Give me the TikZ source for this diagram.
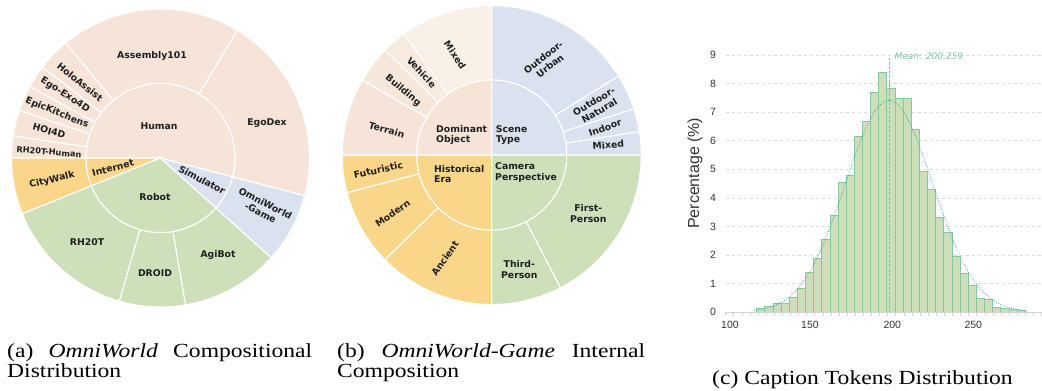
\documentclass[tikz,border=0pt]{standalone}
\usepackage{graphicx}
\usepackage{fontspec}
\setmainfont{Liberation Serif}
\newfontfamily\lab{DejaVu Sans}
\newfontfamily\axf{Liberation Sans}
\usetikzlibrary{calc}
\definecolor{hum}{HTML}{F5E4D7}
\definecolor{hum2}{HTML}{F6E7DB}
\definecolor{hum3}{HTML}{F7EBE0}
\definecolor{hum4}{HTML}{F9F0E7}
\definecolor{inet}{HTML}{FAD68A}
\definecolor{robo}{HTML}{CDE0B9}
\definecolor{simu}{HTML}{DAE1EF}
\definecolor{barfill}{HTML}{CCDFB8}
\definecolor{baredge}{HTML}{86C6A8}
\definecolor{curvec}{HTML}{2EA493}
\definecolor{meanc}{HTML}{7CC4A8}
\definecolor{meant}{HTML}{78C6A8}
\definecolor{gridc}{HTML}{DDDDDD}
\definecolor{axc}{HTML}{D3D3D3}
\definecolor{tickt}{HTML}{333333}
\newcommand\annsec[6]{%
  \fill[#6,draw=white,line width=1.1pt] ([shift={(#2:#5)}]#1) arc[start angle=#2,end angle=#3,radius=#5]
    -- ([shift={(#3:#4)}]#1) arc[start angle=#3,end angle=#2,radius=#4] -- cycle;}
\newcommand\pisec[5]{%
  \fill[#5,draw=white,line width=1.1pt] (#1) -- ([shift={(#2:#4)}]#1) arc[start angle=#2,end angle=#3,radius=#4] -- cycle;}
\newcommand\capbox[1]{\scalebox{1.18}[1]{#1}}
\tikzset{
  lbl/.style={font=\lab\bfseries\fontsize{9.3}{10.8}\selectfont, text=black!88, inner sep=0pt, align=center},
  lblL/.style={lbl, align=left},
  gridln/.style={gridc, line width=0.7pt, dash pattern=on 3pt off 3pt},
  barsty/.style={fill=barfill, draw=baredge, line width=0.9pt},
  curvesty/.style={curvec, line width=0.8pt, dash pattern=on 0.7pt off 1.6pt},
  meansty/.style={meanc, line width=0.8pt, dash pattern=on 3pt off 1.5pt},
  ticklbl/.style={font=\axf\fontsize{10.5}{12}\selectfont, text=tickt, inner sep=0pt},
  captxt/.style={font=\fontsize{20}{22}\selectfont, inner sep=0pt, anchor=base west}
}
\begin{document}
\begin{tikzpicture}[x=1pt,y=1pt]
\useasboundingbox (0,0) rectangle (1042,391);
% ================= Chart (a) =================
\coordinate (A) at (160.5,233);
\annsec{A}{-14.7}{59}{74.5}{149}{hum}
\annsec{A}{59}{129.5}{74.5}{149}{hum}
\annsec{A}{129.5}{142.4}{74.5}{149}{hum}
\annsec{A}{142.4}{151.4}{74.5}{149}{hum}
\annsec{A}{151.4}{161.4}{74.5}{149}{hum}
\annsec{A}{161.4}{171.5}{74.5}{149}{hum}
\annsec{A}{171.5}{180}{74.5}{149}{hum}
\annsec{A}{180}{202}{74.5}{149}{inet}
\annsec{A}{202}{254}{74.5}{149}{robo}
\annsec{A}{254}{279.7}{74.5}{149}{robo}
\annsec{A}{279.7}{318}{74.5}{149}{robo}
\annsec{A}{318}{345.3}{74.5}{149}{simu}
\pisec{A}{-14.7}{180}{74.5}{hum}
\pisec{A}{180}{202}{74.5}{inet}
\pisec{A}{202}{318}{74.5}{robo}
\pisec{A}{318}{345.3}{74.5}{simu}
\node[lbl] (aHum) at (159,265) {Human};
\node[lbl] (aAsm) at (152,335) {Assembly101};
\node[lbl] (aEgo) at (267,268) {EgoDex};
\node[lbl,rotate=-39] (aHolo) at (80,309) {HoloAssist};
\node[lbl,rotate=-33] (aExo) at (65,296) {Ego-Exo4D};
\node[lbl,rotate=-22] (aEpic) at (57,278) {EpicKitchens};
\node[lbl,rotate=-15] (aHoi) at (49,260) {HOI4D};
\node[lbl,rotate=-5,font=\lab\bfseries\fontsize{8.2}{10}\selectfont] (aRhh) at (49,239) {RH20T-Human};
\node[lbl,rotate=15] (aInt) at (113,223) {Internet};
\node[lbl,rotate=13] (aCity) at (52,211) {CityWalk};
\node[lbl] (aRob) at (155,194) {Robot};
\node[lbl] (aRh) at (87,149) {RH20T};
\node[lbl] (aDro) at (155,118) {DROID};
\node[lbl] (aAgi) at (218,136) {AgiBot};
\node[lbl,rotate=-28] (aSim) at (202,211) {Simulator};
\node[lbl,rotate=-27] (aOmg) at (263,183) {OmniWorld\\-Game};
% ================= Chart (b) =================
\coordinate (B) at (491.7,236);
\annsec{B}{90}{126}{75}{149.5}{hum4}
\annsec{B}{126}{135.5}{75}{149.5}{hum3}
\annsec{B}{135.5}{150}{75}{149.5}{hum2}
\annsec{B}{150}{180}{75}{149.5}{hum}
\annsec{B}{31.9}{90}{75}{149.5}{simu}
\annsec{B}{18}{31.9}{75}{149.5}{simu}
\annsec{B}{9}{18}{75}{149.5}{simu}
\annsec{B}{0}{9}{75}{149.5}{simu}
\annsec{B}{180}{194.6}{75}{149.5}{inet}
\annsec{B}{194.6}{224.5}{75}{149.5}{inet}
\annsec{B}{224.5}{270}{75}{149.5}{inet}
\annsec{B}{270}{297.4}{75}{149.5}{robo}
\annsec{B}{297.4}{360}{75}{149.5}{robo}
\pisec{B}{90}{180}{75}{hum}
\pisec{B}{0}{90}{75}{simu}
\pisec{B}{180}{270}{75}{inet}
\pisec{B}{270}{360}{75}{robo}
\node[lblL,anchor=west] (bDom) at (436,256) {Dominant\\Object};
\node[lblL,anchor=west] (bSce) at (495.7,256) {Scene\\Type};
\node[lblL,anchor=west] (bHis) at (434,217) {Historical\\Era};
\node[lblL,anchor=west] (bCam) at (495,218.5) {Camera\\Perspective};
\node[lbl,rotate=-56] (bMix) at (455,336) {Mixed};
\node[lbl,rotate=-47] (bVeh) at (421.5,318.5) {Vehicle};
\node[lbl,rotate=-40] (bBui) at (403,300.5) {Building};
\node[lbl,rotate=-16] (bTer) at (386.7,261) {Terrain};
\node[lbl,rotate=38] (bUrb) at (546.7,329.3) {Outdoor-\\Urban};
\node[lbl,rotate=30] (bNat) at (596.7,285) {Outdoor-\\Natural};
\node[lbl,rotate=19] (bInd) at (605,263.3) {Indoor};
\node[lbl,rotate=5] (bMx2) at (608.3,246) {Mixed};
\node[lbl,rotate=12] (bFut) at (378.3,221) {Futuristic};
\node[lbl,rotate=35] (bMod) at (392.7,177.7) {Modern};
\node[lbl,rotate=55] (bAnc) at (445,132.7) {Ancient};
\node[lbl] (bFir) at (588.3,177.7) {First-\\Person};
\node[lbl] (bThi) at (519.3,121.7) {Third-\\Person};
% ================= Chart (c) =================
\begin{scope}[shift={(566.9,78.7)},x=1.627pt,y=28.6pt]
  \foreach \k in {1,...,9} \draw[gridln] (97.6,\k) -- (292,\k);
  \foreach \h [count=\i from 0] in {0.14,0.19,0.30,0.30,0.53,0.84,1.41,1.90,2.54,3.38,4.54,4.77,6.16,6.69,7.68,8.40,7.84,7.47,7.48,6.39,4.94,4.31,3.32,2.79,1.97,1.37,0.95,0.50,0.46,0.18,0.15,0.10,0.08}
    \filldraw[barsty] ({116.7+5*\i},0) rectangle ++(5,\h);
  \draw[curvesty, domain=115:283, samples=140, smooth] plot (\x, {7.41*exp(-((\x-197.97)^2)/1436.5)});
  \coordinate (mBot) at (198.16,0);
  \coordinate (mTop) at (198.16,8.88);
  \draw[meansty] (mBot) -- (mTop);
\end{scope}
\draw[axc, line width=1.1pt] (725.7,78.7) -- (1042,78.7);
\foreach \k in {0,...,39} \draw[axc, line width=0.7pt] ({725.7+8.1*\k},78.7) -- ++(0,-3.5);
\foreach \k in {0,...,9} \node[ticklbl] (yt\k) at (713,{78.7+28.6*\k}) {\k};
\node[ticklbl] (xt100) at (730,66) {100};
\node[ticklbl] (xt150) at (810,66) {150};
\node[ticklbl] (xt200) at (892.3,66) {200};
\node[ticklbl] (xt250) at (973.3,66) {250};
\node[font=\axf\fontsize{16}{18}\selectfont, text=tickt, rotate=90, inner sep=0pt] (ylab) at (695,217.7) {Percentage (\%)};
\node[font=\lab\itshape\fontsize{9}{10}\selectfont, text=meant, anchor=west, inner sep=0pt] (mlab) at (894.3,335) {Mean: 200.259};
% ================= Captions =================
\node[captxt] (capa1) at (7,33) {\capbox{\makebox[258.5pt][s]{(a) \textit{OmniWorld} Compositional}}};
\node[captxt] (capa2) at (7,13) {\capbox{Distribution}};
\node[captxt] (capb1) at (337,33) {\capbox{\makebox[261pt][s]{(b) \textit{OmniWorld-Game} Internal}}};
\node[captxt] (capb2) at (337,13) {\capbox{Composition}};
\node[captxt] (capc) at (712,6) {\capbox{(c) Caption Tokens Distribution}};
\end{tikzpicture}
\end{document}
